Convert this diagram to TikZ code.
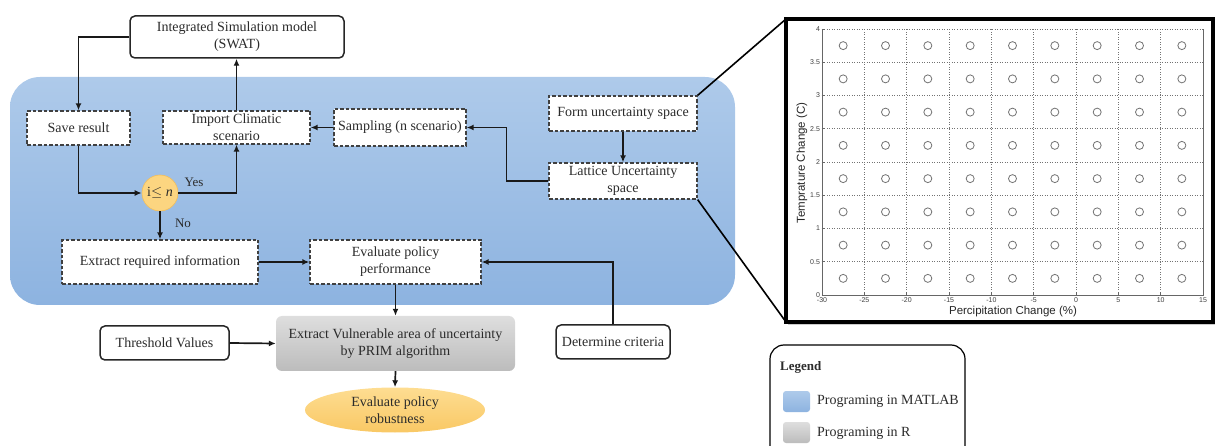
\documentclass[tikz,border=0pt]{standalone}
\usepackage{fontspec}
\setmainfont{Liberation Serif}
\setsansfont{Liberation Sans}
\usetikzlibrary{arrows.meta,shapes.geometric}
\definecolor{txt}{HTML}{2B2B2B}
\definecolor{blueT}{HTML}{AECAEA}
\definecolor{blueB}{HTML}{8DB3E0}
\definecolor{grayT}{HTML}{DEDEDE}
\definecolor{grayB}{HTML}{BCBCBC}
\definecolor{goldT}{HTML}{FEDD92}
\definecolor{goldB}{HTML}{F9C864}
\definecolor{goldE}{HTML}{F3BE5A}
\begin{document}
\begin{tikzpicture}[x=1pt,y=-1pt,
  font=\fontsize{14}{17}\selectfont, text=txt,
  dbox/.style={draw=black!75, dash pattern=on 3.5pt off 2pt, line width=1.3pt, fill=white, inner sep=0pt, align=center},
  sbox/.style={draw=black!85, line width=1.5pt, rounded corners=5pt, fill=white, inner sep=0pt, align=center},
  arr/.style={-{Latex[length=7pt,width=6pt]}, line width=1.7pt, draw=black!90},
  ticklbl/.style={font=\sffamily\fontsize{7}{8}\selectfont, text=black!75, inner sep=1pt},
  legsw/.style={rounded corners=3pt, minimum width=27pt, minimum height=21pt, inner sep=0pt},
  lbl/.style={font=\fontsize{13}{15}\selectfont, inner sep=1pt}]
\clip (0,0) rectangle (1216,446);

% MATLAB region
\shade[rounded corners=30pt, top color=blueT, bottom color=blueB] (10,77) rectangle (735,305);

% nodes
\node[sbox, minimum width=214pt, minimum height=42pt] (swat) at (237,37) {Integrated Simulation model\\(SWAT)};
\node[dbox, minimum width=103pt, minimum height=34pt] (save) at (78.5,128) {Save result};
\node[dbox, minimum width=147pt, minimum height=33pt] (import) at (236.5,127.5) {Import Climatic\\scenario};
\node[dbox, minimum width=132pt, minimum height=37pt] (sampling) at (400,127.5) {Sampling (n scenario)};
\node[dbox, minimum width=148pt, minimum height=35pt] (form) at (623,113.5) {Form uncertainty space};
\node[dbox, minimum width=148pt, minimum height=36pt] (lattice) at (623,181) {Lattice Uncertainty\\space};
\node[circle, fill=goldT!60!goldB, draw=goldE, line width=0.6pt, minimum size=36pt, inner sep=0pt] (cond) at (160,193) {i$\leq$ \textit{n}};
\node[lbl] (yes) at (194,182) {Yes};
\node[lbl] (no) at (183,223) {No};
\node[dbox, minimum width=196pt, minimum height=44pt] (extract) at (160,262) {Extract required information};
\node[dbox, minimum width=171pt, minimum height=44pt] (evalperf) at (395.5,262) {Evaluate policy\\performance};
\node[rounded corners=6pt, top color=grayT, bottom color=grayB, minimum width=239pt, minimum height=55pt, inner sep=0pt, align=center] (prim) at (395.5,343.5) {Extract Vulnerable area of uncertainty\\by PRIM algorithm};
\node[sbox, minimum width=129pt, minimum height=34pt] (thresh) at (164.5,343) {Threshold Values};
\node[sbox, minimum width=114pt, minimum height=34pt] (crit) at (613,342) {Determine criteria};
\node[ellipse, top color=goldT, bottom color=goldB, minimum width=180pt, minimum height=45pt, inner sep=0pt, align=center] (robust) at (395,410) {Evaluate policy\\robustness};

% connectors
\draw[arr] (swat.west) -| (save.north);
\draw[arr] (import.north) -- (import.north |- swat.south);
\draw[arr] (save.south) |- (cond.west);
\draw[arr] (cond.east) -| (import.south);
\draw[arr] (cond.south) -- (extract.north);
\draw[arr] (sampling.west) -- (import.east);
\draw[arr] (lattice.west) -- ++(-42,0) |- (sampling.east);
\draw[arr] (form.south) -- (lattice.north);
\draw[arr] (extract.east) -- (evalperf.west);
\draw[arr] (crit.north) |- (evalperf.east);
\draw[arr] (evalperf.south) -- (prim.north);
\draw[arr] (thresh.east) -- (prim.west);
\draw[arr] (prim.south) -- (robust.north);

% chart frame
\coordinate (ftl) at (786,19);
\coordinate (fbr) at (1213,322);
\coordinate (fbl) at (786,322);
\fill[black!20] ([shift={(2,3)}]ftl) rectangle ([shift={(2,3)}]fbr);
\fill[white] (ftl) rectangle (fbr);
\draw[line width=3.2pt] (ftl) rectangle (fbr);
\draw[line width=1.6pt] (form.north east) -- (ftl);
\draw[line width=1.6pt] (lattice.south east) -- (fbl);

% plot
\begin{scope}[shift={(1076,295)}, x=8.467pt, y=66.5pt]
  \foreach \v in {-25,-20,...,10} \draw[black!55, line width=0.5pt, dotted] (\v,0) -- (\v,4);
  \foreach \t in {0.5,1,...,3.5} \draw[black!55, line width=0.5pt, dotted] (-30,\t) -- (15,\t);
  \draw[black!55, line width=0.5pt, dotted] (-30,4) -- (15,4);
  \draw[black!60, line width=0.7pt] (-30,4) -- (-30,0) -- (15,0) -- (15,4);
  \foreach \v in {-30,-25,...,15} {
    \draw[black!60, line width=0.5pt] (\v,0) -- ++(0,0.045);
    \node[ticklbl, anchor=north] at (\v,-0.02) {\v};
  }
  \foreach \t in {0,0.5,1,1.5,2,2.5,3,3.5,4} {
    \draw[black!60, line width=0.5pt] (-30,\t) -- ++(0.4,0);
    \node[ticklbl, anchor=east] at (-30.1,\t) {\t};
  }
  \foreach \v in {-27.5,-22.5,...,12.5}
    \foreach \t in {0.25,0.75,...,3.75}
      \draw[black!55, line width=0.8pt] (\v,\t) circle[radius=4pt];
\end{scope}
\node[font=\sffamily\fontsize{11.5}{12}\selectfont, text=black!85] (xlab) at (1013,312) {Percipitation Change (\%)};
\node[font=\sffamily\fontsize{11.5}{12}\selectfont, text=black!85, rotate=90] (ylab) at (802,163) {Temprature Change (C)};

% legend
\draw[line width=1.2pt, rounded corners=14pt, fill=white] (770,345) rectangle (965,475);
\node[font=\bfseries\fontsize{13}{15}\selectfont, anchor=west, inner sep=0pt] (legt) at (780,367) {Legend};
\node[legsw, top color=blueT, bottom color=blueB] (legblue) at (796.5,401.5) {};
\node[legsw, top color=grayT, bottom color=grayB] (leggray) at (796.5,432.5) {};
\node[anchor=west, inner sep=0pt] (legbt) at (817,401.5) {Programing in MATLAB};
\node[anchor=west, inner sep=0pt] (leggt) at (817,433) {Programing in R};
\end{tikzpicture}
\end{document}
